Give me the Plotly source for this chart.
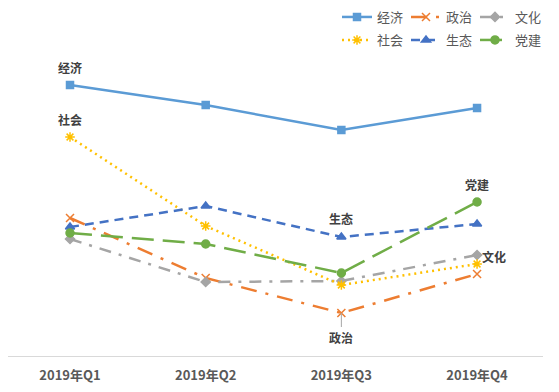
import plotly.graph_objects as go

categories = ["2019年Q1", "2019年Q2", "2019年Q3", "2019年Q4"]
jingji = [271, 251, 226, 248]
zhengzhi = [138, 78, 43, 82]
wenhua = [117, 74, 75, 101]
shehui = [219, 130, 71, 92]
shengtai = [129, 150, 119, 132]
dangjian = [123, 112, 83, 154]

series = [
    ("经济", jingji, "#5B9BD5", "solid", "square", 7, "legend"),
    ("政治", zhengzhi, "#ED7D31", "16px,9px,3px,9px", "x-thin-open", 8, "legend"),
    ("文化", wenhua, "#A5A5A5", "12px,8px,3px,8px", "diamond", 7, "legend"),
    ("社会", shehui, "#FFC000", "2px,4px", "asterisk-open", 8, "legend2"),
    ("生态", shengtai, "#4472C4", "9px,6px", "triangle-up", 8, "legend2"),
    ("党建", dangjian, "#70AD47", "22px,9px", "circle", 8, "legend2"),
]

fig = go.Figure()
for name, vals, color, dash, sym, size, lg in series:
    fig.add_trace(go.Scatter(
        x=categories, y=vals, name=name, mode="lines+markers",
        line=dict(color=color, width=2.5, dash=dash),
        marker=dict(symbol=sym, size=size, color=color,
                    line=dict(color=color, width=1.5)),
        legend=lg,
    ))

lab_font = dict(family="Noto Sans CJK SC", size=12, color="#404040", weight="bold")
labels = [
    ("经济", 0, jingji[0], 0, -18),
    ("社会", 0, shehui[0], 0, -18),
    ("生态", 2, shengtai[2], 0, -19),
    ("党建", 3, dangjian[3], 0, -18),
    ("文化", 3, wenhua[3], 17, 1),
]
for txt, i, v, xs, ys in labels:
    fig.add_annotation(x=categories[i], y=v, text=txt, showarrow=False,
                       xshift=xs, yshift=-ys, font=lab_font)
fig.add_annotation(x=categories[2], y=zhengzhi[2], text="政治", showarrow=True,
                   arrowhead=0, arrowwidth=1, arrowcolor="#A6A6A6",
                   ax=0, ay=14, font=lab_font, yanchor="top")

W, H = 551, 384
leg_common = dict(orientation="h", xref="container", yref="container",
                  xanchor="left", yanchor="middle", entrywidth=24,
                  entrywidthmode="pixels", itemwidth=30,
                  font=dict(family="Noto Sans CJK SC", size=13, color="#595959"),
                  bgcolor="rgba(0,0,0,0)", tracegroupgap=0)

fig.update_layout(
    width=W, height=H,
    margin=dict(l=0, r=16, t=48, b=36, pad=0, autoexpand=False),
    paper_bgcolor="white", plot_bgcolor="white",
    showlegend=True,
    legend=dict(x=329/W, y=1 - 9/H, **leg_common),
    legend2=dict(x=329/W, y=1 - 32/H, **leg_common),
    xaxis=dict(type="category", range=[-0.457, 3.486], showgrid=False,
               showline=True, linecolor="#D9D9D9", linewidth=1,
               ticks="", ticklabelstandoff=7,
               tickfont=dict(family="Noto Sans CJK SC", size=13, color="#595959", weight="bold")),
    yaxis=dict(range=[0, 300], visible=False, showgrid=False, zeroline=False),
)

fig.write_html("out.html")
